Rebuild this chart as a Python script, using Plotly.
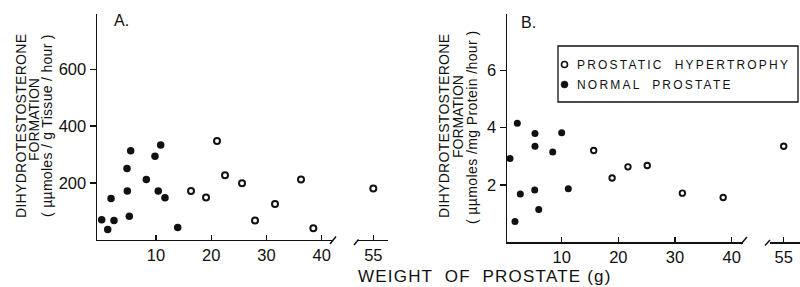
import plotly.graph_objects as go

# ---- data ----
a_normal_x = [0.16, 1.25, 1.85, 2.39, 4.74, 4.8, 5.16, 5.41, 8.24, 9.81, 10.4, 10.84, 11.62, 13.92]
a_normal_y = [70, 35, 145, 67, 251, 171, 82, 313, 212, 294, 171, 334, 147, 42]
a_hyper_x = [16.33, 19.05, 21.04, 22.49, 25.57, 27.92, 31.54, 36.25, 38.48, 55]
a_hyper_y = [171, 148, 348, 227, 199, 67, 125, 212, 40, 180]

b_normal_x = [0.88, 1.76, 2.17, 2.70, 5.24, 5.29, 5.29, 5.95, 8.42, 10.0, 11.17]
b_normal_y = [2.92, 0.72, 4.16, 1.68, 1.82, 3.35, 3.80, 1.14, 3.15, 3.82, 1.86]
b_hyper_x = [15.65, 18.9, 21.7, 25.1, 31.3, 38.5, 55]
b_hyper_y = [3.20, 2.24, 2.63, 2.68, 1.71, 1.56, 3.35]

x_ticks_main = [10, 20, 30, 40]
x_ticks_break = [55]
a_y_ticks = [200, 400, 600]
b_y_ticks = [2, 4, 6]
BREAK = 45

W, H = 800, 287
def px(x):
    return x / W
def py(y):
    return (H - y) / H

FONT = "Liberation Sans, Arial, sans-serif"
INK = "#111111"

fig = go.Figure()

def split(xs, ys):
    m = [(x, y) for x, y in zip(xs, ys) if x < BREAK]
    b = [(x, y) for x, y in zip(xs, ys) if x >= BREAK]
    return ([p[0] for p in m], [p[1] for p in m]), ([p[0] for p in b], [p[1] for p in b])

def add_panel(nx, ny, hx, hy, xa, xb, ya, fsize, osize, olw):
    (nmx, nmy), (nbx, nby) = split(nx, ny)
    (hmx, hmy), (hbx, hby) = split(hx, hy)
    filled = dict(symbol="circle", size=fsize, color=INK, line=dict(width=0))
    opened = dict(symbol="circle-open", size=osize, color=INK, line=dict(width=olw, color=INK))
    fig.add_trace(go.Scatter(x=nmx, y=nmy, mode="markers", marker=filled,
                             xaxis=xa, yaxis=ya, showlegend=False, cliponaxis=False,
                             name="NORMAL PROSTATE"))
    if nbx:
        fig.add_trace(go.Scatter(x=nbx, y=nby, mode="markers", marker=filled,
                                 xaxis=xb, yaxis=ya, showlegend=False, cliponaxis=False))
    fig.add_trace(go.Scatter(x=hmx, y=hmy, mode="markers", marker=opened,
                             xaxis=xa, yaxis=ya, showlegend=False, cliponaxis=False,
                             name="PROSTATIC HYPERTROPHY"))
    if hbx:
        fig.add_trace(go.Scatter(x=hbx, y=hby, mode="markers", marker=opened,
                                 xaxis=xb, yaxis=ya, showlegend=False, cliponaxis=False))

add_panel(a_normal_x, a_normal_y, a_hyper_x, a_hyper_y, "x", "x2", "y", 7.5, 6, 2.0)
add_panel(b_normal_x, b_normal_y, b_hyper_x, b_hyper_y, "x3", "x4", "y2", 7, 5.5, 1.9)

tickfont = dict(family=FONT, size=16.5, color=INK)
common_x = dict(showline=True, linecolor=INK, linewidth=1.5, ticks="inside", ticklen=5,
                tickwidth=1.5, tickcolor=INK, showgrid=False, zeroline=False, tickfont=tickfont,
                fixedrange=True)
common_y = dict(showline=True, linecolor=INK, linewidth=1.5, ticks="outside", ticklen=6,
                tickwidth=1.5, tickcolor=INK, showgrid=False, zeroline=False, tickfont=tickfont,
                fixedrange=True)

fig.update_layout(
    width=W, height=H, margin=dict(l=0, r=0, t=0, b=0),
    paper_bgcolor="white", plot_bgcolor="white", showlegend=False,
    xaxis=dict(domain=[px(97), px(331.5)], range=[-0.69, 41.77], anchor="y",
               tickvals=x_ticks_main, **common_x),
    xaxis2=dict(domain=[px(358), px(388)], range=[52.23, 57.66], anchor="y",
                tickvals=x_ticks_break, **common_x),
    yaxis=dict(domain=[py(239.5), py(14)], range=[0, 796], anchor="x",
               tickvals=a_y_ticks, **common_y),
    xaxis3=dict(domain=[px(507), px(743)], range=[0.35, 42.0], anchor="y2",
                tickvals=x_ticks_main, **common_x),
    xaxis4=dict(domain=[px(770), 1.0], range=[52.58, 57.88], anchor="y2",
                tickvals=x_ticks_break, **common_x),
    yaxis2=dict(domain=[py(242), py(14)], range=[0, 7.98], anchor="x3",
                tickvals=b_y_ticks, **common_y),
)

shapes = []
def seg(x0, y0, x1, y1, w=1.5):
    shapes.append(dict(type="line", xref="paper", yref="paper",
                       x0=px(x0), y0=py(y0), x1=px(x1), y1=py(y1),
                       line=dict(color=INK, width=w)))
# axis break marks
seg(330, 244, 336, 236.5)
seg(354, 245, 358.5, 239.5)
seg(741, 244, 747, 237)
seg(765, 245.5, 770, 240)
# legend box
shapes.append(dict(type="rect", xref="paper", yref="paper",
                   x0=px(558), y0=py(102), x1=px(798), y1=py(46),
                   line=dict(color=INK, width=1.3), fillcolor="rgba(0,0,0,0)"))
# legend symbols
shapes.append(dict(type="circle", xref="paper", yref="paper",
                   x0=px(561.5), x1=px(567.5), y0=py(67.5), y1=py(61.5),
                   line=dict(color=INK, width=1.6), fillcolor="white"))
shapes.append(dict(type="circle", xref="paper", yref="paper",
                   x0=px(561), x1=px(568), y0=py(88), y1=py(81),
                   line=dict(color=INK, width=0.5), fillcolor=INK))
fig.update_layout(shapes=shapes)

ann = []
def text(x, y, s, size, xanchor="center", angle=0, spacing=0):
    if spacing:
        s = '<span style="letter-spacing:%.1fpx">%s</span>' % (spacing, s)
    ann.append(dict(x=px(x), y=py(y), xref="paper", yref="paper", text=s, showarrow=False,
                    xanchor=xanchor, yanchor="middle", textangle=angle,
                    font=dict(family=FONT, size=size, color=INK)))

text(485, 276, "WEIGHT  OF  PROSTATE (g)", 17, spacing=1.2)
# y titles
text(21, 126, "DIHYDROTESTOSTERONE", 14, angle=-90, spacing=0.3)
text(34, 120, "FORMATION", 14, angle=-90)
text(47, 126, "( µµmoles / g Tissue / hour )", 14, angle=-90, spacing=0.3)
text(444, 126, "DIHYDROTESTOSTERONE", 14, angle=-90, spacing=0.3)
text(458, 117, "FORMATION", 14, angle=-90)
text(472, 128, "( µµmoles /mg Protein /hour )", 14, angle=-90, spacing=0.4)
# panel labels
text(121, 21, "A.", 16)
text(528, 22, "B.", 16)
# legend text
text(575, 64.5, "PROSTATIC  HYPERTROPHY", 12, xanchor="left", spacing=2.2)
text(575, 84.5, "NORMAL  PROSTATE", 12, xanchor="left", spacing=2.2)
fig.update_layout(annotations=ann)

fig.write_html("out.html", config={"displayModeBar": False, "staticPlot": True},
               post_script="document.body.style.margin='0';document.body.style.overflow='hidden';")
